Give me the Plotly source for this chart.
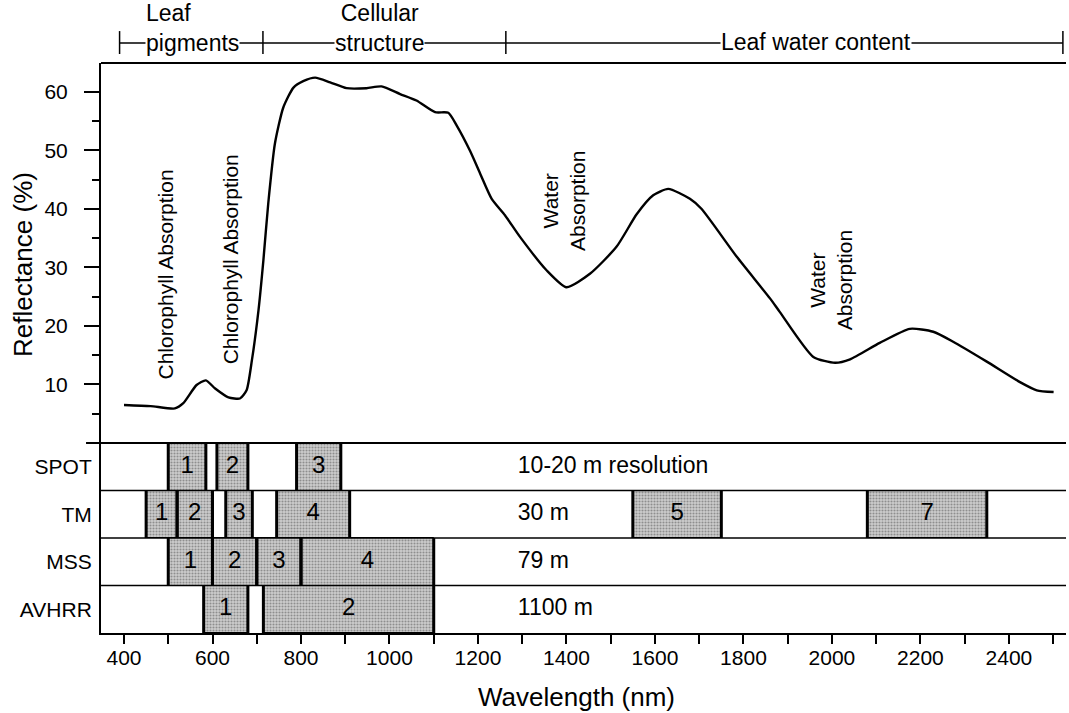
import plotly.graph_objects as go

# ---------------- data ----------------
wavelength = [400, 460, 515, 534, 564, 585, 606, 636, 662, 677, 689, 704, 715, 726, 741,
              760, 783, 805, 832, 866, 903, 948, 982, 1024, 1061, 1103, 1133, 1152, 1182,
              1205, 1231, 1261, 1295, 1355, 1400, 1453, 1513, 1559, 1596, 1630, 1679, 1705,
              1785, 1860, 1882, 1958, 2007, 2041, 2108, 2176, 2229, 2274, 2350, 2425, 2463, 2501]
reflectance = [6.5, 6.3, 5.9, 6.8, 9.9, 10.7, 9.3, 7.8, 7.6, 9.0, 14.1, 22.7, 31.2, 40.9, 51.1,
               57.3, 60.7, 61.8, 62.4, 61.6, 60.6, 60.6, 60.9, 59.6, 58.5, 56.5, 56.4, 54.2, 49.9,
               46.0, 41.7, 38.9, 35.2, 29.5, 26.6, 28.9, 33.5, 39.1, 42.3, 43.4, 41.7, 40.0,
               31.8, 24.7, 22.4, 14.7, 13.7, 14.3, 17.1, 19.5, 19.0, 17.3, 13.9, 10.4, 9.0, 8.7]

sensors = ["SPOT", "TM", "MSS", "AVHRR"]
sensor_row = [3.5, 2.5, 1.5, 0.5]
resolution = ["10-20 m resolution", "30 m", "79 m", "1100 m"]

band_sensor = ["SPOT", "SPOT", "SPOT",
               "TM", "TM", "TM", "TM", "TM", "TM",
               "MSS", "MSS", "MSS", "MSS",
               "AVHRR", "AVHRR"]
band_label = ["1", "2", "3",
              "1", "2", "3", "4", "5", "7",
              "1", "2", "3", "4",
              "1", "2"]
band_start = [500, 610, 790,
              450, 520, 630, 745, 1550, 2080,
              500, 600, 700, 800,
              580, 715]
band_end = [585, 680, 890,
            520, 600, 690, 910, 1750, 2350,
            600, 700, 800, 1100,
            680, 1100]

header_text = ["Leaf<br>pigments", "Cellular<br>structure", "Leaf water content"]
header_x = [447, 978, 1964]
header_bounds = [390, 714, 1263, 2522]

annot_text = ["Chlorophyll Absorption", "Chlorophyll Absorption",
              "Water<br>Absorption", "Water<br>Absorption"]
annot_x = [493, 640, 1393, 1998]
annot_y = [28.8, 31.4, 41.4, 27.8]

x_ticks = [400, 600, 800, 1000, 1200, 1400, 1600, 1800, 2000, 2200, 2400]
y_ticks = [10, 20, 30, 40, 50, 60]

FONT = "Liberation Sans, Arial, Helvetica, sans-serif"
row_of = dict(zip(sensors, sensor_row))

fig = go.Figure()

# reflectance curve
fig.add_trace(go.Scatter(x=wavelength, y=reflectance, mode="lines",
                         line=dict(color="black", width=2.4, shape="spline", smoothing=0.6),
                         xaxis="x", yaxis="y", hoverinfo="skip"))

# band boxes
brow = [row_of[s] for s in band_sensor]
fig.add_trace(go.Bar(
    y=brow, x=[e - s for s, e in zip(band_start, band_end)], base=band_start,
    orientation="h", width=1.0, xaxis="x", yaxis="y2",
    marker=dict(color="#c4c4c4",
                line=dict(color="black", width=1),
                pattern=dict(shape=".", fgcolor="#4f4f4f", bgcolor="#cdcdcd",
                             size=3, solidity=0.4)),
    hoverinfo="skip"))

# thick vertical edges of boxes
ex, ey = [], []
for s, e, r in zip(band_start, band_end, brow):
    for v in (s, e):
        ex += [v, v, None]
        ey += [r - 0.5, r + 0.5, None]
fig.add_trace(go.Scatter(x=ex, y=ey, mode="lines", line=dict(color="black", width=3),
                         xaxis="x", yaxis="y2", hoverinfo="skip"))

# band numbers
fig.add_trace(go.Scatter(x=[(s + e) / 2 for s, e in zip(band_start, band_end)], y=brow,
                         mode="text", text=band_label,
                         textfont=dict(family=FONT, size=24, color="black"),
                         xaxis="x", yaxis="y2", hoverinfo="skip"))

# resolution labels
fig.add_trace(go.Scatter(x=[1290] * len(resolution), y=sensor_row, mode="text",
                         text=resolution, textposition="middle right",
                         textfont=dict(family=FONT, size=23, color="black"),
                         xaxis="x", yaxis="y2", hoverinfo="skip"))

shapes = []
# row separators
for yv in [1, 2, 3]:
    shapes.append(dict(type="line", xref="paper", yref="y2", x0=0, x1=1, y0=yv, y1=yv,
                       line=dict(color="black", width=1.5)))
# boundary between panels (extends left like a tick)
shapes.append(dict(type="line", xref="paper", yref="paper", x0=-0.0155, x1=1, y0=1/3, y1=1/3,
                   line=dict(color="black", width=2)))
# top border
shapes.append(dict(type="line", xref="paper", yref="paper", x0=0, x1=1, y0=1, y1=1,
                   line=dict(color="black", width=2)))
# header bracket
shapes.append(dict(type="line", xref="x", yref="paper", x0=header_bounds[0], x1=header_bounds[-1],
                   y0=1.0351, y1=1.0351, line=dict(color="black", width=1.3)))
for b in header_bounds:
    shapes.append(dict(type="line", xref="x", yref="paper", x0=b, x1=b, y0=1.0158, y1=1.056,
                       line=dict(color="black", width=1.5)))

annotations = []
header_y = [1.0614, 1.0614, 1.0368]
header_anchor = ["left", "center", "center"]
header_align = ["left", "center", "center"]
for t, x, y, a, al in zip(header_text, header_x, header_y, header_anchor, header_align):
    annotations.append(dict(text=t, x=x, y=y, xref="x", yref="paper", xanchor=a, yanchor="middle",
                            align=al, showarrow=False, bgcolor="white", borderpad=0,
                            font=dict(family=FONT, size=23, color="black")))
for t, x, y in zip(annot_text, annot_x, annot_y):
    annotations.append(dict(text=t, x=x, y=y, xref="x", yref="y", textangle=-90,
                            xanchor="center", yanchor="middle",
                            showarrow=False, align="center",
                            font=dict(family=FONT, size=21, color="black")))
annotations.append(dict(text="Reflectance (%)", x=-0.081, y=0.647, xref="paper", yref="paper",
                        textangle=-90, showarrow=False, xanchor="center", yanchor="middle",
                        font=dict(family=FONT, size=26, color="black")))
annotations.append(dict(text="Wavelength (nm)", x=0.493, y=-0.112, xref="paper", yref="paper",
                        showarrow=False, xanchor="center", yanchor="middle",
                        font=dict(family=FONT, size=26, color="black")))

fig.update_layout(
    width=1069, height=713,
    margin=dict(l=101, r=3, t=63, b=80, autoexpand=False),
    paper_bgcolor="white", plot_bgcolor="white",
    showlegend=False,
    font=dict(family=FONT, color="black"),
    xaxis=dict(anchor="y2", domain=[0, 1], range=[348, 2529],
               tickmode="array", tickvals=x_ticks,
               ticks="outside", ticklen=9, tickwidth=1.5, tickcolor="black",
               minor=dict(tickmode="linear", tick0=0, dtick=100, ticks="outside",
                          ticklen=9, tickwidth=1.5, tickcolor="black"),
               showline=True, linecolor="black", linewidth=2,
               showgrid=False, zeroline=False, ticklabelstandoff=-4,
               tickfont=dict(family=FONT, size=21, color="black")),
    yaxis=dict(anchor="x", domain=[1/3, 1], range=[0, 64.9],
               tickmode="array", tickvals=y_ticks,
               ticks="outside", ticklen=15, tickwidth=1.5, tickcolor="black",
               minor=dict(tickmode="linear", tick0=0, dtick=5, ticks="outside",
                          ticklen=7, tickwidth=1.5, tickcolor="black"),
               showline=True, linecolor="black", linewidth=2,
               showgrid=False, zeroline=False, ticklabelstandoff=12,
               tickfont=dict(family=FONT, size=21, color="black")),
    yaxis2=dict(anchor="x", domain=[0, 1/3], range=[0, 4],
                tickmode="array", tickvals=sensor_row, ticktext=sensors,
                ticks="", showline=True, linecolor="black", linewidth=2,
                showgrid=False, zeroline=False, ticklabelstandoff=3,
                tickfont=dict(family=FONT, size=21, color="black")),
    shapes=shapes,
    annotations=annotations,
    bargap=0,
)

fig.write_html("out.html", config={"displayModeBar": False},
               post_script="document.body.style.margin='0';document.body.style.overflow='hidden';")
